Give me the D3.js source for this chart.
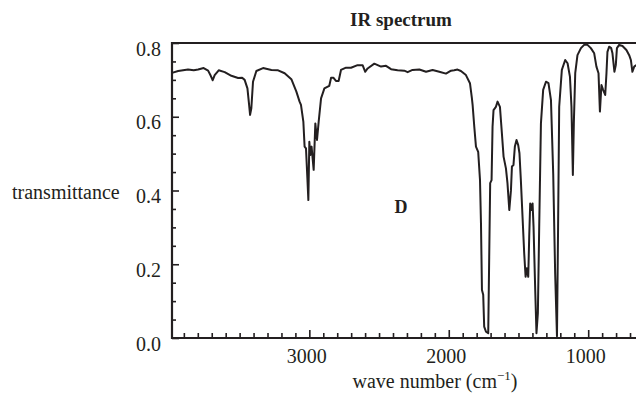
<!DOCTYPE html>
<html>
<head>
<meta charset="utf-8">
<script src="https://cdn.jsdelivr.net/npm/d3@7"></script>
<style>
  body { margin: 0; background: #fff; }
  svg text { font-family: "Liberation Serif", "Times New Roman", serif; fill: #231f20; }
</style>
</head>
<body>
<svg id="chart" width="636" height="394"></svg>
<script>
// spectrum: wave number (cm-1) and transmittance
const waveNumbers = [
  3985, 3941, 3870, 3829, 3798, 3758, 3726, 3707, 3693, 3679, 3650, 3607, 3559, 3511, 3482, 3464,
  3444, 3432, 3425, 3416, 3404, 3380, 3332, 3272, 3224, 3177, 3129, 3093, 3070, 3060, 3043, 3034,
  3024, 3014, 3007, 3000, 2993, 2984, 2969, 2957, 2945, 2933, 2916, 2892, 2857, 2844, 2828, 2809,
  2790, 2773, 2737, 2701, 2654, 2618, 2599, 2582, 2534, 2486, 2450, 2414, 2367, 2319, 2295, 2260,
  2211, 2163, 2116, 2068, 2020, 1984, 1961, 1937, 1913, 1877, 1848, 1834, 1829, 1817, 1805, 1789,
  1776, 1769, 1762, 1753, 1746, 1733, 1717, 1710, 1703, 1693, 1686, 1679, 1662, 1650, 1633, 1619,
  1607, 1590, 1579, 1566, 1554, 1547, 1536, 1526, 1514, 1502, 1493, 1483, 1471, 1459, 1449, 1440,
  1430, 1423, 1416, 1407, 1399, 1392, 1380, 1371, 1361, 1351, 1339, 1323, 1303, 1285, 1267, 1251,
  1237, 1224, 1216, 1208, 1189, 1165, 1148, 1131, 1120, 1110, 1103, 1093, 1077, 1052, 1029, 1005,
  981, 957, 941, 926, 916, 905, 893, 878, 869, 862, 850, 835, 826, 812, 802, 794,
  778, 754, 726, 706, 694, 683, 670, 655
];
const transmittance = [
  0.719, 0.724, 0.728, 0.726, 0.728, 0.732, 0.725, 0.711, 0.699, 0.713, 0.726, 0.721, 0.711, 0.705, 0.706, 0.700,
  0.677, 0.632, 0.605, 0.623, 0.695, 0.724, 0.732, 0.727, 0.726, 0.718, 0.702, 0.668, 0.641, 0.632, 0.587, 0.519,
  0.514, 0.433, 0.374, 0.532, 0.496, 0.519, 0.456, 0.582, 0.537, 0.587, 0.650, 0.677, 0.684, 0.706, 0.706, 0.697,
  0.697, 0.727, 0.733, 0.733, 0.740, 0.740, 0.722, 0.731, 0.744, 0.736, 0.738, 0.729, 0.726, 0.725, 0.721, 0.727,
  0.728, 0.722, 0.727, 0.722, 0.717, 0.725, 0.726, 0.728, 0.724, 0.713, 0.691, 0.650, 0.632, 0.573, 0.519, 0.505,
  0.428, 0.311, 0.130, 0.117, 0.031, 0.017, 0.013, 0.220, 0.420, 0.428, 0.573, 0.618, 0.627, 0.641, 0.627, 0.555,
  0.492, 0.460, 0.420, 0.347, 0.401, 0.465, 0.469, 0.519, 0.537, 0.523, 0.501, 0.428, 0.329, 0.230, 0.166, 0.189,
  0.166, 0.275, 0.365, 0.347, 0.365, 0.302, 0.130, 0.013, 0.067, 0.311, 0.582, 0.673, 0.695, 0.691, 0.645, 0.447,
  0.175, 0.005, 0.300, 0.627, 0.727, 0.754, 0.745, 0.709, 0.627, 0.442, 0.582, 0.718, 0.767, 0.786, 0.795, 0.795,
  0.786, 0.772, 0.736, 0.718, 0.614, 0.686, 0.673, 0.659, 0.718, 0.776, 0.790, 0.786, 0.772, 0.722, 0.740, 0.786,
  0.795, 0.792, 0.781, 0.767, 0.754, 0.722, 0.736, 0.740
];

const waveDomain = [3985, 650];
const transDomain = [0, 0.8];
const yMajorTicks = [0, 0.2, 0.4, 0.6, 0.8];
const yMinorTicks = [0.05, 0.1, 0.15, 0.25, 0.3, 0.35, 0.45, 0.5, 0.55, 0.65, 0.7, 0.75];
const xMajorTicks = [3000, 2000, 1000];
const xMinorTicks = d3.range(3900, 650, -100).filter(d => d % 1000 !== 0);

const svg = d3.select('#chart');
const ink = '#231f20';

const x = d3.scaleLinear().domain(waveDomain).range([172, 637]);
const y = d3.scaleLinear().domain(transDomain).range([338, 43]);

// top frame line
svg.append('line')
  .attr('x1', x(waveDomain[0])).attr('x2', 640)
  .attr('y1', y(0.8)).attr('y2', y(0.8))
  .attr('stroke', ink).attr('stroke-width', 1.8);

// y axis, ticks pointing inward
const yAxis = svg.append('g')
  .attr('transform', `translate(${x(waveDomain[0])},0)`)
  .call(d3.axisLeft(y).tickValues(yMajorTicks).tickSize(-7).tickPadding(11)
    .tickFormat(d3.format('.1f')));
yAxis.select('.domain').remove();
yAxis.selectAll('.tick text').attr('dy', '0.6em').style('font-size', '20px').style('font-family', null);

svg.append('g')
  .attr('transform', `translate(${x(waveDomain[0])},0)`)
  .call(d3.axisLeft(y).tickValues(yMinorTicks).tickSize(-4).tickFormat(''))
  .select('.domain').remove();

// x axis, ticks pointing up
const xAxis = svg.append('g')
  .attr('transform', `translate(0,${y(0)})`)
  .call(d3.axisBottom(x).tickValues(xMajorTicks).tickSize(-8).tickPadding(11)
    .tickFormat(d3.format('d')));
xAxis.select('.domain').remove();
xAxis.selectAll('.tick text').attr('dx', -3).style('font-size', '20px').style('font-family', null);

svg.append('g')
  .attr('transform', `translate(0,${y(0)})`)
  .call(d3.axisBottom(x).tickValues(xMinorTicks).tickSize(-5).tickFormat(''))
  .select('.domain').remove();

svg.selectAll('.tick line').attr('stroke', ink).attr('stroke-width', 1.6);
svg.selectAll('.tick text').attr('fill', ink);

// axis lines
svg.append('line')
  .attr('x1', x(waveDomain[0])).attr('x2', x(waveDomain[0]))
  .attr('y1', y(0.8) - 1).attr('y2', y(0) + 1)
  .attr('stroke', ink).attr('stroke-width', 2.2);
svg.append('line')
  .attr('x1', x(waveDomain[0]) - 1).attr('x2', 640)
  .attr('y1', y(0)).attr('y2', y(0))
  .attr('stroke', ink).attr('stroke-width', 2.2);

// spectrum
const points = waveNumbers.map((w, i) => [w, transmittance[i]]);
svg.append('path')
  .datum(points)
  .attr('fill', 'none')
  .attr('stroke', ink)
  .attr('stroke-width', 2)
  .attr('stroke-linejoin', 'round')
  .attr('d', d3.line().x(d => x(d[0])).y(d => y(d[1])));

// labels
svg.append('text')
  .attr('x', 401).attr('y', 26)
  .attr('text-anchor', 'middle')
  .style('font-size', '19px').style('font-weight', 'bold')
  .text('IR spectrum');

svg.append('text')
  .attr('x', 12).attr('y', 199)
  .style('font-size', '20px')
  .text('transmittance');

svg.append('text')
  .attr('x', 401).attr('y', 213)
  .attr('text-anchor', 'middle')
  .style('font-size', '18px').style('font-weight', 'bold')
  .text('D');

const xTitle = svg.append('text')
  .attr('x', 435).attr('y', 388)
  .attr('text-anchor', 'middle')
  .style('font-size', '20px');
xTitle.append('tspan').text('wave number (cm');
xTitle.append('tspan').attr('dy', -8).style('font-size', '13px').text('\u22121');
xTitle.append('tspan').attr('dy', 8).text(')');
</script>
</body>
</html>
